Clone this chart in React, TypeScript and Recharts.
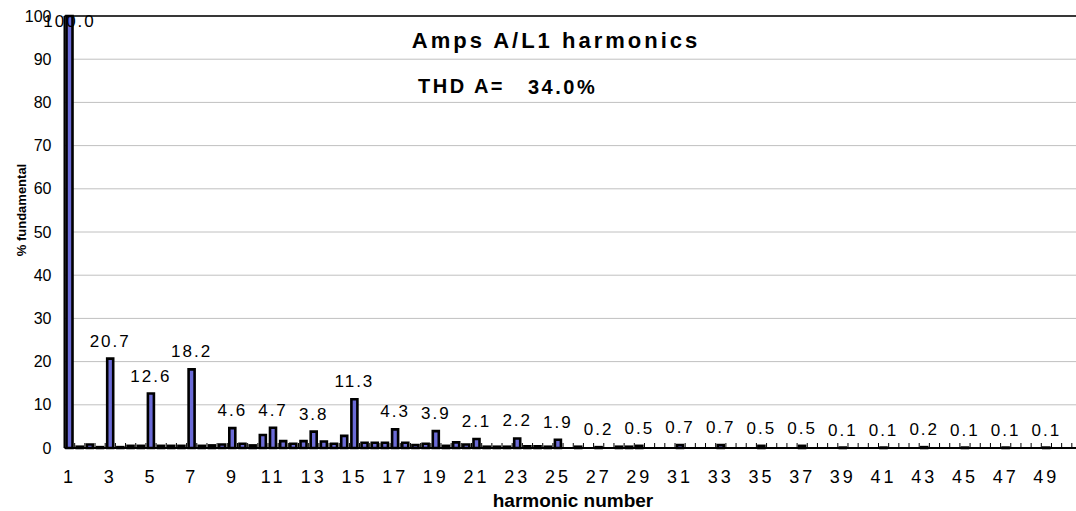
import { BarChart, Bar, XAxis, YAxis, CartesianGrid, ReferenceLine, LabelList } from 'recharts';

// harmonic order, half steps (interharmonics included)
const harmonics = [
  1, 1.5, 2, 2.5, 3, 3.5, 4, 4.5, 5, 5.5, 6, 6.5, 7, 7.5, 8, 8.5, 9, 9.5, 10, 10.5,
  11, 11.5, 12, 12.5, 13, 13.5, 14, 14.5, 15, 15.5, 16, 16.5, 17, 17.5, 18, 18.5, 19, 19.5, 20, 20.5,
  21, 21.5, 22, 22.5, 23, 23.5, 24, 24.5, 25, 25.5, 26, 26.5, 27, 27.5, 28, 28.5, 29, 29.5, 30, 30.5,
  31, 31.5, 32, 32.5, 33, 33.5, 34, 34.5, 35, 35.5, 36, 36.5, 37, 37.5, 38, 38.5, 39, 39.5, 40, 40.5,
  41, 41.5, 42, 42.5, 43, 43.5, 44, 44.5, 45, 45.5, 46, 46.5, 47, 47.5, 48, 48.5, 49, 49.5, 50, 50.5,
];

// % of fundamental
const percentFundamental = [
  100, 0.3, 0.8, 0.2, 20.7, 0.2, 0.5, 0.5, 12.6, 0.5, 0.5, 0.5, 18.2, 0.5, 0.6, 0.8, 4.6, 1.0, 0.6, 3.0,
  4.7, 1.6, 1.0, 1.6, 3.8, 1.5, 1.0, 2.8, 11.3, 1.2, 1.2, 1.2, 4.3, 1.2, 0.7, 1.0, 3.9, 0.5, 1.3, 0.8,
  2.1, 0.3, 0.3, 0.3, 2.2, 0.4, 0.4, 0.3, 1.9, 0, 0.3, 0, 0.2, 0, 0.3, 0.3, 0.5, 0, 0, 0,
  0.7, 0, 0, 0, 0.7, 0, 0, 0, 0.5, 0, 0, 0, 0.5, 0, 0, 0, 0.1, 0, 0, 0,
  0.1, 0, 0, 0, 0.2, 0, 0, 0, 0.1, 0, 0, 0, 0.1, 0, 0, 0, 0.1, 0, 0, 0,
];

const labelledHarmonics = [1, 3, 5, 7, 9, 11, 13, 15, 17, 19, 21, 23, 25, 27, 29, 31, 33, 35, 37, 39, 41, 43, 45, 47, 49];
const yTicks = [0, 10, 20, 30, 40, 50, 60, 70, 80, 90, 100];

const data = harmonics.map((h, i) => ({
  h,
  v: percentFundamental[i],
  lbl: labelledHarmonics.includes(h) ? percentFundamental[i] : null,
}));

const FONT = '"Liberation Sans", Arial, sans-serif';
const CHART_W = 1082;
const Y_AXIS_W = 64.5;
const BAND = (CHART_W - Y_AXIS_W) / harmonics.length;

const HarmonicTick = (props: any) => {
  const { x, y, payload } = props;
  const show = labelledHarmonics.includes(payload.value);
  const bx = x - BAND / 2;
  return (
    <g>
      <line x1={bx} x2={bx} y1={y} y2={y - 5} stroke="#000" strokeWidth={1} />
      {show && (
        <text x={x} y={y + 35} textAnchor="middle" fontSize={18} fontFamily={FONT} fill="#000" style={{ letterSpacing: 3 }}>
          {payload.value}
        </text>
      )}
    </g>
  );
};

const ValueLabel = (props: any) => {
  const { value } = props;
  if (value === null || value === undefined) return null;
  const vb = props.viewBox || props;
  const x = vb.x ?? props.x;
  const y = vb.y ?? props.y;
  const w = vb.width ?? props.width;
  return (
    <text x={x + w / 2} y={Math.max(y - 12, 27)} textAnchor="middle" fontSize={17} fontFamily={FONT} fill="#000" style={{ letterSpacing: 2 }}>
      {Number(value).toFixed(1)}
    </text>
  );
};

export default function App() {
  return (
    <div style={{ position: 'absolute', left: 0, top: 0, width: 1076, height: 511, overflow: 'hidden', background: '#fff' }}>
      <BarChart width={CHART_W} height={511} data={data} margin={{ top: 16, right: 0, bottom: 0, left: 0 }} barSize={6}>
        <CartesianGrid horizontal vertical={false} stroke="#c0c0c0" />
        <XAxis
          dataKey="h"
          interval={0}
          height={63}
          tickSize={0}
          tickMargin={0}
          tickLine={false}
          axisLine={{ stroke: '#000', strokeWidth: 2 }}
          tick={<HarmonicTick />}
        />
        <YAxis
          domain={[0, 100]}
          ticks={yTicks}
          width={Y_AXIS_W}
          tickLine={false}
          tickSize={8}
          tickMargin={5}
          axisLine={{ stroke: '#000', strokeWidth: 2 }}
          tick={{ fontSize: 16, fill: '#000', fontFamily: FONT }}
        />
        <ReferenceLine y={100} stroke="#000" strokeWidth={1.5} />
        <Bar dataKey="v" fill="#6b6bd6" stroke="#000" strokeWidth={2.6} isAnimationActive={false}>
          <LabelList dataKey="lbl" content={<ValueLabel />} />
        </Bar>
      </BarChart>
      <svg width={1076} height={511} style={{ position: 'absolute', left: 0, top: 0, pointerEvents: 'none' }}>
        <text x={556} y={48} textAnchor="middle" fontSize={22} fontWeight="bold" fontFamily={FONT} fill="#000" style={{ letterSpacing: 3 }}>
          Amps A/L1 harmonics
        </text>
        <text x={418} y={93} fontSize={20} fontWeight="bold" fontFamily={FONT} fill="#000" style={{ letterSpacing: 2.5 }}>
          THD A=
        </text>
        <text x={528} y={94} fontSize={20} fontWeight="bold" fontFamily={FONT} fill="#000" style={{ letterSpacing: 2.5 }}>
          34.0%
        </text>
        <text x={573} y={507} textAnchor="middle" fontSize={19} fontWeight="bold" fontFamily={FONT} fill="#000">
          harmonic number
        </text>
        <text
          transform="translate(26 210) rotate(-90)"
          textAnchor="middle"
          fontSize={13}
          fontWeight="bold"
          fontFamily={FONT}
          fill="#000"
        >
          % fundamental
        </text>
      </svg>
    </div>
  );
}
